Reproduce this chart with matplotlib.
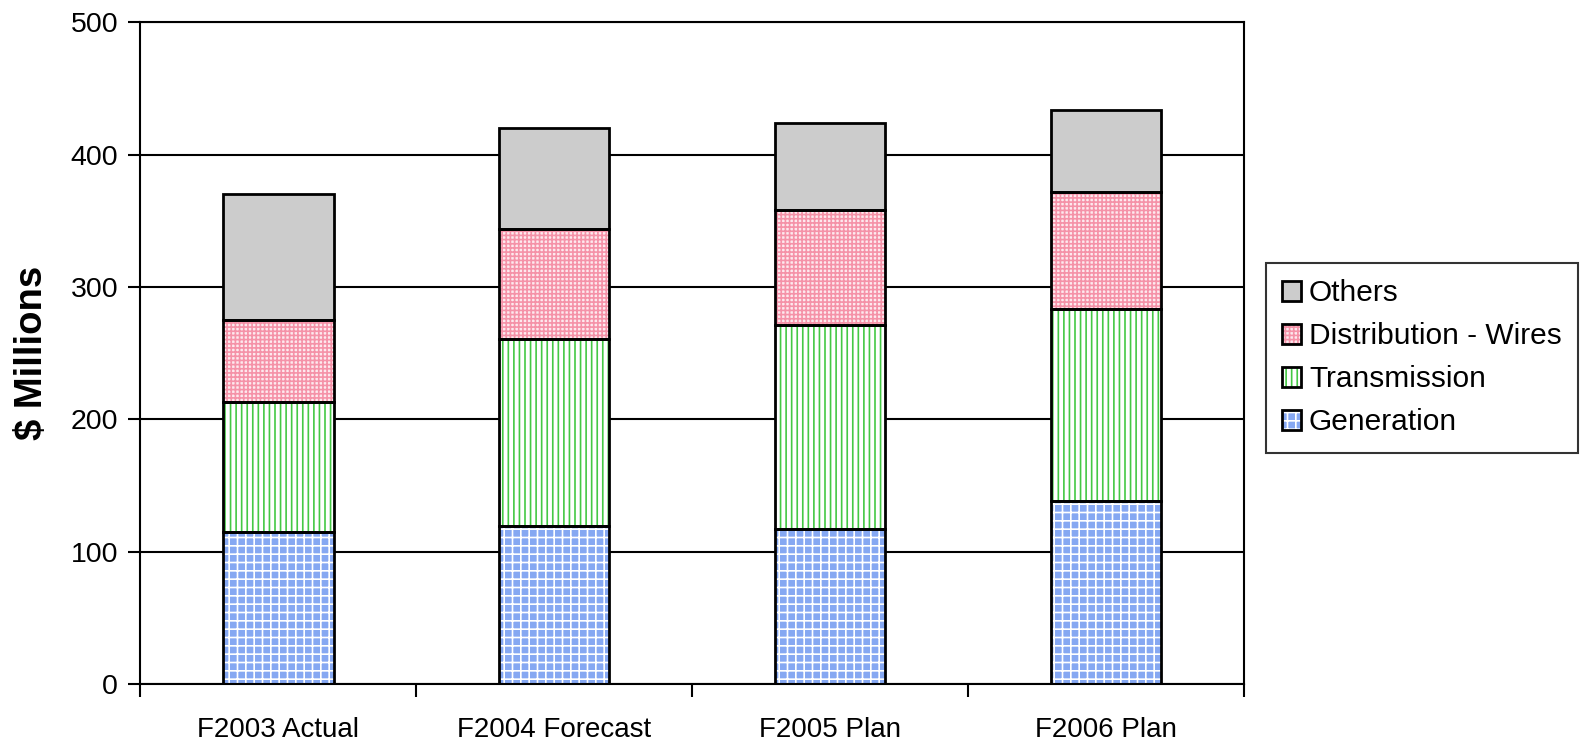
import matplotlib.pyplot as plt
import numpy as np
from matplotlib.patches import Patch
from matplotlib.legend_handler import HandlerTuple

plt.rcParams['font.family'] = ['Liberation Sans', 'DejaVu Sans']

# capital spending by business unit, $ millions
years = ['F2003 Actual', 'F2004 Forecast', 'F2005 Plan', 'F2006 Plan']
generation = [115, 119, 117, 138]
transmission = [98, 142, 154, 145]
distribution = [62, 83, 87, 89]
others = [95, 76, 66, 62]

series = [
    ('Generation', generation, '#86a8f2', 'white', '++'),
    ('Transmission', transmission, 'white', '#44c844', '|||'),
    ('Distribution - Wires', distribution, '#fde9ee', '#f592a8', '++++'),
    ('Others', others, '#cccccc', '#cccccc', None),
]

fig = plt.figure(figsize=(15.96, 7.41), dpi=100)
ax = fig.add_axes([0.088, 0.077, 0.6915, 0.8928])

x = np.arange(len(years))
width = 0.4
bottom = np.zeros(len(years))
handles = {}
plt.rcParams['hatch.linewidth'] = 1.2
for name, vals, face, hcol, hatch in series:
    ax.bar(x, vals, width, bottom=bottom, color=face, edgecolor=hcol,
           hatch=hatch, linewidth=0, zorder=2)
    ax.bar(x, vals, width, bottom=bottom, facecolor='none', edgecolor='black',
           linewidth=2, zorder=3)
    handles[name] = (Patch(facecolor=face, edgecolor=hcol, hatch=hatch, linewidth=0),
                     Patch(facecolor='none', edgecolor='black', linewidth=2))
    bottom += np.array(vals)

ax.set_xlim(-0.5, 3.5)
ax.set_ylim(0, 500)
ax.set_yticks(np.arange(0, 501, 100))
ax.set_xticks(np.arange(-0.5, 3.6, 1))
ax.set_xticklabels([])
ax.set_xticks(x, minor=True)
ax.set_xticklabels(years, minor=True)
ax.tick_params(axis='x', which='minor', length=0, pad=24, labelsize=20)
ax.tick_params(axis='x', which='major', length=9, width=1.5)
ax.tick_params(axis='y', length=9, width=1.5, pad=7, labelsize=20.5)
ax.yaxis.grid(True, color='black', linewidth=1.5, zorder=1)
ax.set_axisbelow(True)
for s in ax.spines.values():
    s.set_linewidth(1.5)

ax.set_ylabel('$ Millions', fontsize=27.5, fontweight='bold', labelpad=15)

order = ['Others', 'Distribution - Wires', 'Transmission', 'Generation']
leg = fig.legend([handles[n] for n in order], order,
                 handler_map={tuple: HandlerTuple(ndivide=1)},
                 loc='upper left', bbox_to_anchor=(0.7932, 0.645),
                 borderaxespad=0,
                 fontsize=21.5, frameon=True, fancybox=False, edgecolor='black',
                 handlelength=0.64, handleheight=0.64, handletextpad=0.25,
                 labelspacing=0.5, borderpad=0.55)
leg.get_frame().set_linewidth(1.5)

fig.savefig('out.png', dpi=100)
